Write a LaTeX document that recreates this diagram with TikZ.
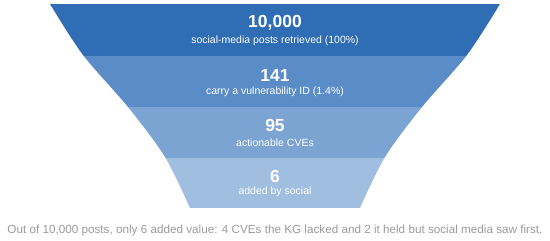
\documentclass[tikz,border=0pt]{standalone}
\usepackage{fontspec}
\setmainfont{Liberation Sans}
\usepackage{tikz}

\definecolor{tierA}{HTML}{2F6DB5}
\definecolor{tierB}{HTML}{5A8CC8}
\definecolor{tierC}{HTML}{7BA4D3}
\definecolor{tierD}{HTML}{A0BEE0}
\definecolor{capgray}{HTML}{9A9A9A}

\tikzset{
  num/.style={text=white, font=\fontsize{17.5}{20}\selectfont\bfseries, inner sep=0pt},
  desc/.style={text=white, font=\fontsize{10.5}{12}\selectfont, inner sep=0pt},
}

\begin{document}
\begin{tikzpicture}[x=1pt, y=-1pt]
  \useasboundingbox (0,0) rectangle (550,241);
  \begin{scope}
    \clip plot[smooth] coordinates {(50,4) (83,55) (128,107) (165,157) (190,208)}
      -- plot[smooth] coordinates {(360,208) (385,157) (422,107) (467,55) (500,4)} -- cycle;
    \fill[tierA] (0,4) rectangle (550,55.5);
    \fill[tierB] (0,55.5) rectangle (550,107);
    \fill[tierC] (0,107) rectangle (550,157.5);
    \fill[tierD] (0,157.5) rectangle (550,208);
  \end{scope}
  \node[num] (n1) at (275,23) {10,000};
  \node[desc] (d1) at (275,41) {social-media posts retrieved (100\%)};
  \node[num] (n2) at (275,75) {141};
  \node[desc] (d2) at (275,92) {carry a vulnerability ID (1.4\%)};
  \node[num] (n3) at (275,125.5) {95};
  \node[desc] (d3) at (275,143) {actionable CVEs};
  \node[num] (n4) at (275,176.5) {6};
  \node[desc] (d4) at (275,192) {added by social};
  \node[text=capgray, font=\fontsize{11.7}{14}\selectfont, inner sep=0pt] (cap) at (275,230)
    {Out of 10,000 posts, only 6 added value: 4 CVEs the KG lacked and 2 it held but social media saw first.};
\end{tikzpicture}
\end{document}
